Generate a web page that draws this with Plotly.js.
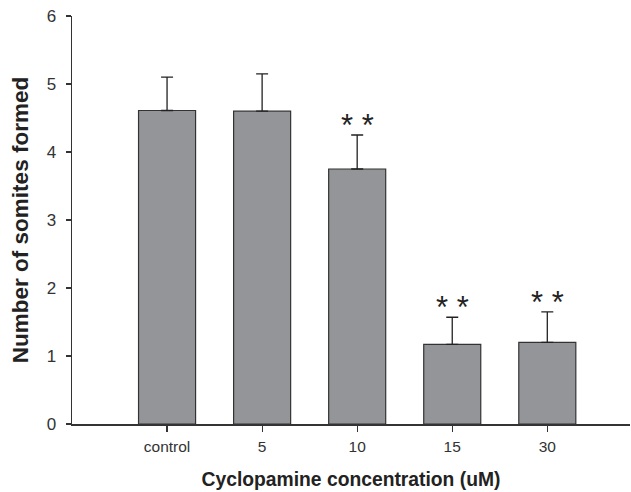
<!DOCTYPE html>
<html>
<head>
<meta charset="utf-8">
<script src="https://cdn.plot.ly/plotly-3.0.1.min.js"></script>
<style>html,body{margin:0;padding:0;background:#fff;}#chart{width:631px;height:492px;}</style>
</head>
<body>
<div id="chart"></div>
<script>
var categories = ["control", "5", "10", "15", "30"];
var somites = [4.61, 4.60, 3.75, 1.17, 1.20];
var errUpper = [0.49, 0.55, 0.50, 0.40, 0.45];
var significance = ["", "", "**", "**", "**"];

var FONT = "Liberation Sans, Arial, Helvetica, sans-serif";

var trace = {
  type: "bar",
  x: categories,
  y: somites,
  width: 0.6,
  marker: {color: "#939598", line: {color: "#333333", width: 1.2}},
  error_y: {
    type: "data",
    symmetric: false,
    array: errUpper,
    arrayminus: categories.map(function(){return 0;}),
    color: "#222222",
    thickness: 1.3,
    width: 6
  },
  hoverinfo: "none"
};

var annotations = [];
categories.forEach(function(c, i){
  if (significance[i]) {
    annotations.push({
      x: i, y: somites[i] + errUpper[i], xref: "x", yref: "y",
      text: significance[i].split("").join(" "),
      showarrow: false, yanchor: "bottom", yshift: -10,
      font: {family: FONT, size: 31, color: "#222222"}
    });
  }
});

var layout = {
  width: 631, height: 492,
  margin: {l: 72, r: 1, t: 16, b: 68},
  paper_bgcolor: "#ffffff", plot_bgcolor: "#ffffff",
  showlegend: false,
  font: {family: FONT, color: "#333333", size: 14},
  xaxis: {
    type: "category",
    range: [-1, 4.87],
    showline: true, linecolor: "#333333", linewidth: 1.5,
    ticks: "outside", ticklen: 6, tickwidth: 1.2, tickcolor: "#333333",
    showgrid: false, zeroline: false,
    ticklabelstandoff: 2,
    tickfont: {family: FONT, size: 15.5, color: "#333333"},
    title: {text: "Cyclopamine concentration (uM)", standoff: 18,
            font: {family: FONT, size: 19.3, color: "#222222", weight: "bold"}}
  },
  yaxis: {
    range: [0, 6], dtick: 1,
    showline: true, linecolor: "#333333", linewidth: 1.5,
    ticks: "outside", ticklen: 5, tickwidth: 1.2, tickcolor: "#333333",
    showgrid: false, zeroline: false,
    ticklabelstandoff: 6,
    tickfont: {family: FONT, size: 17, color: "#333333"},
    title: {text: "Number of somites formed", standoff: 12,
            font: {family: FONT, size: 22.5, color: "#222222", weight: "bold"}}
  },
  annotations: annotations
};

Plotly.newPlot("chart", [trace], layout, {displayModeBar: false, staticPlot: true});
</script>
</body>
</html>
